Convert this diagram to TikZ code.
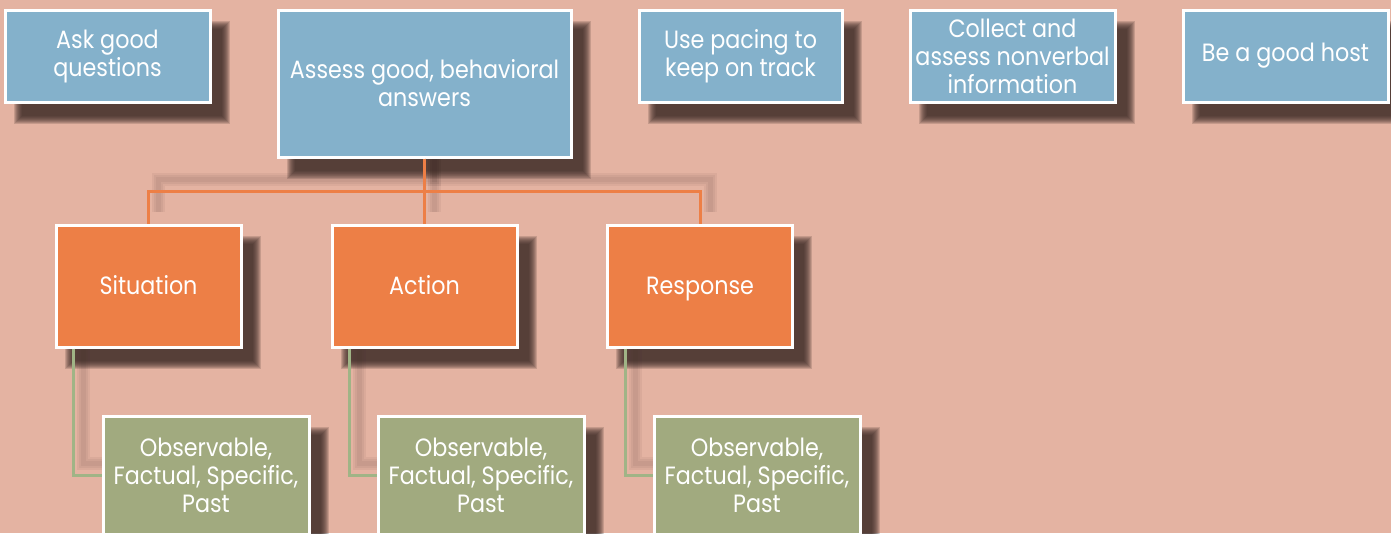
\documentclass[tikz,border=0pt]{standalone}
\usepackage{fontspec}
\setmainfont{Poppins}[FakeStretch=0.89]
\usetikzlibrary{calc,backgrounds}

\definecolor{slidebg}{RGB}{228,179,162}
\definecolor{boxblue}{RGB}{132,177,203}
\definecolor{boxorange}{RGB}{237,127,70}
\definecolor{boxgreen}{RGB}{161,170,127}
\definecolor{linegreen}{RGB}{160,180,134}
\definecolor{shadowbrown}{RGB}{60,42,38}

\tikzset{
	every picture/.style={line width=1pt},
	slidebox/.style={draw=white, line width=3pt, text=white, inner sep=0pt,
		font=\fontsize{25}{28}\selectfont},
	bluebox/.style={slidebox, align=center, fill=boxblue, minimum width=205, minimum height=92},
	orangebox/.style={slidebox, fill=boxorange, minimum width=185, minimum height=122,
		text height=17.5pt, text depth=0pt},
	greenbox/.style={slidebox, align=center, fill=boxgreen, minimum width=206, minimum height=118},
	orgline/.style={draw=boxorange, line width=3pt},
	grnline/.style={draw=linegreen, line width=3pt},
	lineshadow/.style={draw=shadowbrown, opacity=.06,
		transform canvas={shift={(10,12)}}}}

\begin{document}
\begin{tikzpicture}[x=1pt,y=1pt,yscale=-1,xscale=1]
	\useasboundingbox (0,0) rectangle (1391,533);

	%Top row
	\node[bluebox] (ask) at (107.5,56) {Ask good\\questions};
	\node[bluebox, minimum width=293, minimum height=147] (assess) at (424.5,83.5) {Assess good, behavioral\\answers};
	\node[bluebox, minimum width=203] (pacing) at (740.5,56) {Use pacing to\\keep on track};
	\node[bluebox] (collect) at (1012.5,56) {Collect and\\assess nonverbal\\information};
	\node[bluebox] (host) at (1285.5,56) {Be a good host};

	%Second row
	\node[orangebox] (sit) at (148.5,286) {Situation};
	\node[orangebox] (act) at (424.5,286) {Action};
	\node[orangebox] (resp) at (700,286) {Response};

	%Third row
	\node[greenbox] (obsa) at (206,475) {Observable,\\Factual, Specific,\\Past};
	\node[greenbox] (obsb) at (481,475) {Observable,\\Factual, Specific,\\Past};
	\node[greenbox] (obsc) at (757,475) {Observable,\\Factual, Specific,\\Past};

	%Connectors
	\foreach \c in {sit,act,resp}
		\draw[orgline] (assess.south) |- ($(assess.south)!.5!(act.north)$) -| (\c.north);
	\foreach \p/\c in {sit/obsa,act/obsb,resp/obsc}
		\draw[grnline] ([xshift=19]\p.south west) |- (\c.west);

	%Background and shadows
	\begin{scope}[on background layer]
		\fill[slidebg] (0,0) rectangle (1391,533);
		\foreach \w in {5,9,13} {
			\foreach \c in {sit,act,resp}
				\draw[lineshadow, line width=\w] (assess.south) |- ($(assess.south)!.5!(act.north)$) -| (\c.north);
			\foreach \p/\c in {sit/obsa,act/obsb,resp/obsc}
				\draw[lineshadow, line width=\w] ([xshift=19]\p.south west) |- (\c.west);
		}
		\foreach \n in {ask,assess,pacing,collect,host,sit,act,resp,obsa,obsb,obsc}
			\foreach \b in {0,...,8}
				\fill[shadowbrown, fill opacity=.18] ($(\n.north west)+(10+\b,12+\b)$) rectangle ($(\n.south east)+(18-\b,20-\b)$);
	\end{scope}

\end{tikzpicture}
\end{document}
